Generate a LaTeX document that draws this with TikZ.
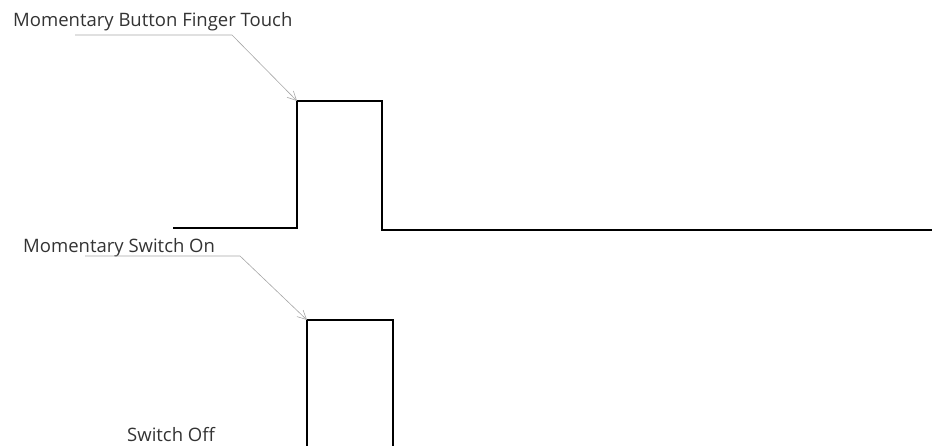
\documentclass[tikz,border=0pt]{standalone}
\usepackage{fontspec}
\setmainfont{Open Sans}
\usetikzlibrary{arrows.meta}

\begin{document}
\begin{tikzpicture}[x=1pt,y=-1pt,
    trace/.style={line width=1.6pt,black,line join=miter},
    leader/.style={line width=0.6pt,black!35,-{Straight Barb[length=9pt,width=9pt,line width=0.6pt]}},
    caption/.style={anchor=base west,inner sep=0pt,font=\fontsize{18.5}{22}\selectfont,text=black!80}]
\useasboundingbox (0,0) rectangle (932,446);
% labels
\node[caption] (touch) at (13,27) {Momentary Button Finger Touch};
\node[caption] (on) at (23,253) {Momentary Switch On};
\node[caption] (off) at (127,441) {Switch Off};
% button trace
\coordinate (b0) at (173,228);
\coordinate (b1) at (297,228);
\coordinate (b2) at (297,101);
\coordinate (b3) at (382,101);
\coordinate (b4) at (382,230);
\coordinate (b5) at (932,230);
\draw[trace] (b0) -- (b1) -- (b2) -- (b3) -- (b4) -- (b5);
% switch trace
\coordinate (s1) at (307,447);
\coordinate (s2) at (307,320);
\coordinate (s3) at (393,320);
\coordinate (s4) at (393,447);
\draw[trace] (s1) -- (s2) -- (s3) -- (s4);
% leaders
\coordinate (t0) at (75,35);
\coordinate (t1) at (232,35);
\draw[leader] (t0) -- (t1) -- (b2);
\coordinate (o0) at (85,256);
\coordinate (o1) at (240,256);
\draw[leader] (o0) -- (o1) -- (s2);
\end{tikzpicture}
\end{document}
